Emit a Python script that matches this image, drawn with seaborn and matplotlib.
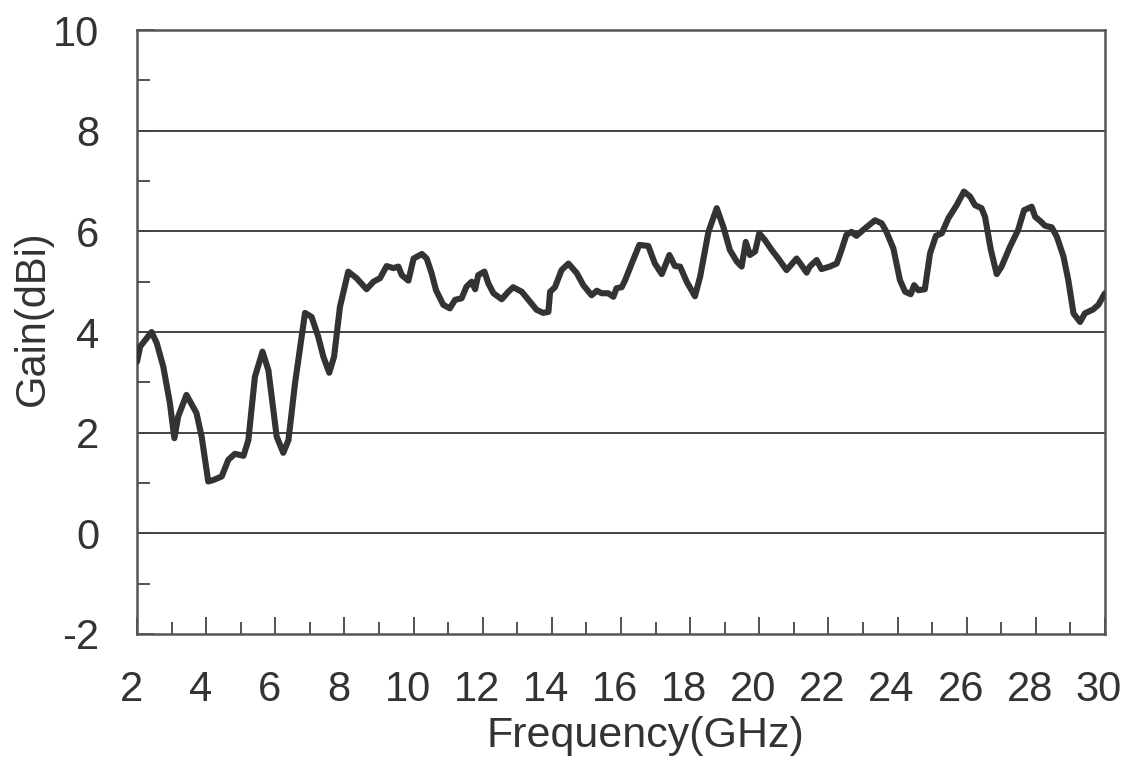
import numpy as np
import pandas as pd
import matplotlib
matplotlib.use("Agg")
import matplotlib.pyplot as plt
import matplotlib.transforms as mtransforms
import seaborn as sns
from matplotlib.ticker import MultipleLocator

# Gain curve
freq_ghz = [2.0, 2.09, 2.42, 2.57, 2.76, 2.95, 3.08, 3.19, 3.43, 3.72, 3.87, 4.06,
            4.21, 4.45, 4.64, 4.83, 5.08, 5.22, 5.41, 5.63, 5.80, 6.04, 6.23, 6.38,
            6.57, 6.86, 7.05, 7.24, 7.39, 7.56, 7.70, 7.87, 8.11, 8.35, 8.64, 8.84,
            9.03, 9.22, 9.42, 9.56, 9.66, 9.85, 10.0, 10.24, 10.38, 10.52, 10.65,
            10.86, 11.05, 11.20, 11.39, 11.53, 11.68, 11.78, 11.87, 12.05, 12.16,
            12.31, 12.55, 12.74, 12.88, 13.13, 13.32, 13.56, 13.75, 13.90, 13.95,
            14.09, 14.28, 14.48, 14.72, 14.91, 15.15, 15.30, 15.44, 15.63, 15.78,
            15.87, 16.02, 16.12, 16.31, 16.53, 16.79, 16.98, 17.18, 17.40, 17.56,
            17.71, 17.90, 18.14, 18.29, 18.53, 18.77, 18.96, 19.15, 19.35, 19.49,
            19.61, 19.73, 19.88, 20.0, 20.16, 20.36, 20.55, 20.79, 21.08, 21.22,
            21.37, 21.46, 21.66, 21.80, 22.04, 22.24, 22.38, 22.52, 22.67, 22.81,
            23.06, 23.35, 23.54, 23.68, 23.88, 24.07, 24.22, 24.38, 24.48, 24.60,
            24.79, 24.94, 25.11, 25.28, 25.47, 25.71, 25.92, 26.10, 26.24, 26.43,
            26.53, 26.70, 26.87, 27.01, 27.25, 27.49, 27.66, 27.88, 27.98, 28.12,
            28.27, 28.46, 28.61, 28.80, 28.94, 29.09, 29.28, 29.42, 29.66, 29.81,
            30.0]
gain_dbi = [3.41, 3.71, 4.0, 3.78, 3.31, 2.59, 1.89, 2.32, 2.75, 2.39, 1.92, 1.03,
            1.06, 1.13, 1.46, 1.58, 1.54, 1.85, 3.11, 3.61, 3.24, 1.92, 1.60, 1.85,
            2.98, 4.38, 4.30, 3.91, 3.51, 3.19, 3.51, 4.50, 5.20, 5.07, 4.85, 5.0,
            5.07, 5.31, 5.27, 5.30, 5.13, 5.02, 5.46, 5.55, 5.46, 5.17, 4.83,
            4.54, 4.47, 4.64, 4.67, 4.90, 5.0, 4.85, 5.13, 5.20, 4.97,
            4.77, 4.65, 4.80, 4.89, 4.80, 4.64, 4.44, 4.38, 4.40, 4.80,
            4.89, 5.23, 5.36, 5.17, 4.93, 4.73, 4.82, 4.77, 4.77, 4.70,
            4.87, 4.89, 5.03, 5.36, 5.73, 5.71, 5.36, 5.15, 5.53, 5.31,
            5.30, 5.0, 4.71, 5.10, 5.99, 6.46, 6.09, 5.63, 5.40, 5.30,
            5.79, 5.53, 5.60, 5.96, 5.83, 5.63, 5.46, 5.23, 5.46, 5.33,
            5.18, 5.30, 5.43, 5.25, 5.30, 5.36, 5.63, 5.93, 5.99, 5.91,
            6.06, 6.22, 6.16, 5.99, 5.66, 5.03, 4.80, 4.75, 4.93, 4.83,
            4.85, 5.56, 5.91, 5.96, 6.26, 6.52, 6.79, 6.69, 6.52, 6.46,
            6.29, 5.63, 5.15, 5.30, 5.69, 6.03, 6.42, 6.49, 6.29, 6.21,
            6.11, 6.08, 5.89, 5.50, 5.03, 4.37, 4.20, 4.37, 4.45, 4.54,
            4.77]

x_ticks = list(range(2, 31, 2))
y_ticks = list(range(-2, 11, 2))

df = pd.DataFrame({"Frequency(GHz)": freq_ghz, "Gain(dBi)": gain_dbi})

sns.set_style("white")
plt.rcParams["font.family"] = ["Liberation Sans", "DejaVu Sans"]
plt.rcParams["axes.unicode_minus"] = False

fig = plt.figure(figsize=(11.26, 7.6), dpi=100)
ax = fig.add_axes([0.1217, 0.1658, 0.8596, 0.7947])

# horizontal grid lines
for yv in y_ticks[1:-1]:
    ax.axhline(yv, color="#444444", lw=1.4, zorder=1)

sns.lineplot(data=df, x="Frequency(GHz)", y="Gain(dBi)", ax=ax,
             color="#333333", lw=4.4, zorder=3,
             solid_joinstyle="round", solid_capstyle="round")

ax.set_xlim(2, 30)
ax.set_ylim(-2, 10)
ax.set_xticks(x_ticks)
ax.set_yticks(y_ticks)
ax.xaxis.set_minor_locator(MultipleLocator(1))
ax.yaxis.set_minor_locator(MultipleLocator(1))
ax.tick_params(axis="x", which="both", bottom=True, top=False)
ax.tick_params(axis="y", which="both", left=True, right=False)
ax.tick_params(axis="both", which="major", direction="in", length=12, width=1.3,
               color="#444444", labelsize=30, labelcolor="#333333")
ax.tick_params(axis="both", which="minor", direction="in", length=9, width=1.3,
               color="#444444")
ax.tick_params(axis="x", which="major", pad=26)
ax.tick_params(axis="y", which="major", pad=27)

# x tick labels sit a little left of their ticks in the original
shift = mtransforms.ScaledTranslation(-0.06, 0, fig.dpi_scale_trans)
for lab in ax.get_xticklabels():
    lab.set_transform(lab.get_transform() + shift)

for side in ["left", "right", "top", "bottom"]:
    ax.spines[side].set_color("#555555")
    ax.spines[side].set_linewidth(1.8)

ax.set_xlabel("Frequency(GHz)", fontsize=31, color="#333333", labelpad=4)
ax.set_ylabel("Gain(dBi)", fontsize=30, color="#333333", labelpad=0)
ax.xaxis.label.set_x(0.525)
ax.yaxis.label.set_y(0.523)

fig.savefig("out.png", dpi=100)
plt.close(fig)
